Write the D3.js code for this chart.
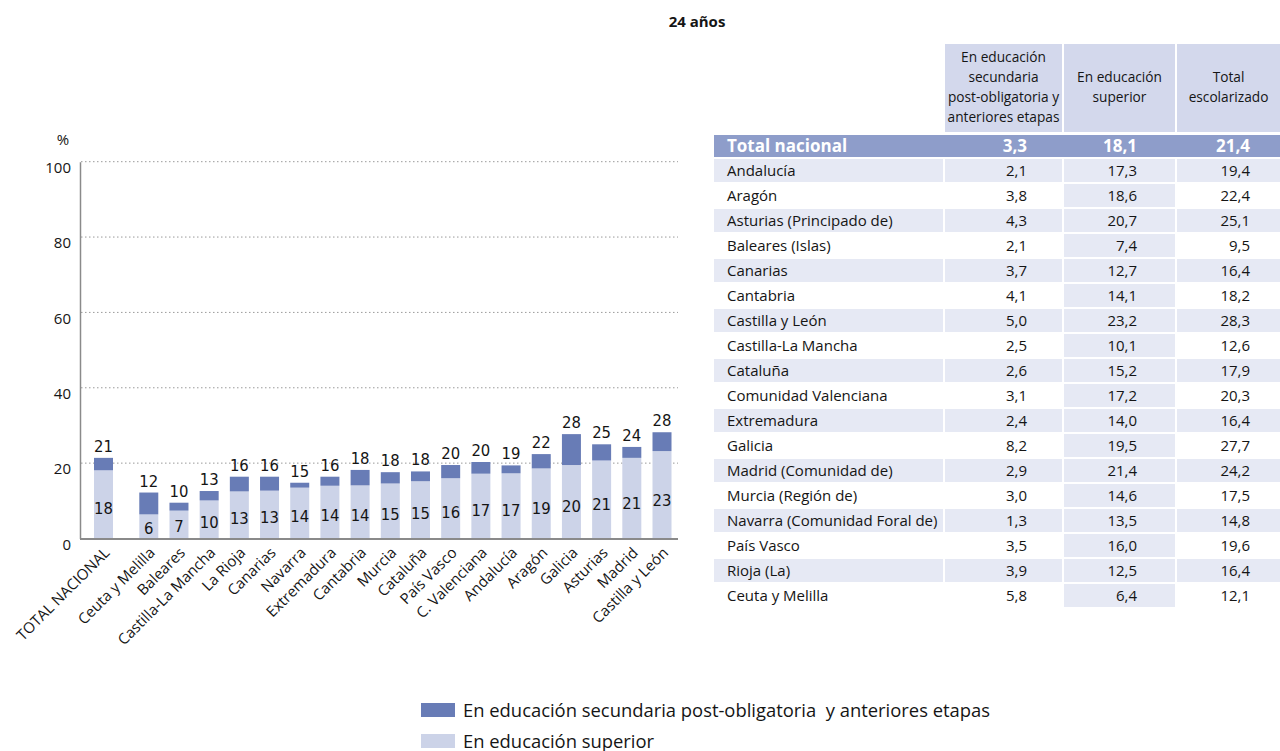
<!DOCTYPE html>
<html><head><meta charset="utf-8">
<script src="https://cdn.jsdelivr.net/npm/d3@7"></script>
<style>
html,body{margin:0;padding:0;background:#fff;}
svg{display:block;}
</style></head>
<body>
<svg id="c" width="1280" height="751"></svg>
<script>
// ---- chart data (chart order) ----
const chartCats = ["TOTAL NACIONAL","Ceuta y Melilla","Baleares","Castilla-La Mancha","La Rioja","Canarias","Navarra","Extremadura","Cantabria","Murcia","Cataluña","País Vasco","C. Valenciana","Andalucía","Aragón","Galicia","Asturias","Madrid","Castilla y León"];
const chartSuperior = [18.1,6.4,7.4,10.1,12.5,12.7,13.5,14.0,14.1,14.6,15.2,16.0,17.2,17.3,18.6,19.5,20.7,21.4,23.2];
const chartSecundaria = [3.3,5.8,2.1,2.5,3.9,3.7,1.3,2.4,4.1,3.0,2.6,3.5,3.1,2.1,3.8,8.2,4.3,2.9,5.0];
const chartTotal = [21.4,12.1,9.5,12.6,16.4,16.4,14.8,16.4,18.2,17.5,17.9,19.6,20.3,19.4,22.4,27.7,25.1,24.2,28.3];
const yTicks = [0,20,40,60,80,100];

// ---- table data ----
const tableHeaders = [["En educación","secundaria","post-obligatoria y","anteriores etapas"],["En educación","superior"],["Total","escolarizado"]];
const totalNacional = ["Total nacional",3.3,18.1,21.4];
const tableRegions = ["Andalucía","Aragón","Asturias (Principado de)","Baleares (Islas)","Canarias","Cantabria","Castilla y León","Castilla-La Mancha","Cataluña","Comunidad Valenciana","Extremadura","Galicia","Madrid (Comunidad de)","Murcia (Región de)","Navarra (Comunidad Foral de)","País Vasco","Rioja (La)","Ceuta y Melilla"];
const tableSecundaria = [2.1,3.8,4.3,2.1,3.7,4.1,5.0,2.5,2.6,3.1,2.4,8.2,2.9,3.0,1.3,3.5,3.9,5.8];
const tableSuperior = [17.3,18.6,20.7,7.4,12.7,14.1,23.2,10.1,15.2,17.2,14.0,19.5,21.4,14.6,13.5,16.0,12.5,6.4];
const tableTotal = [19.4,22.4,25.1,9.5,16.4,18.2,28.3,12.6,17.9,20.3,16.4,27.7,24.2,17.5,14.8,19.6,16.4,12.1];

const legendLabels = ["En educación secundaria post-obligatoria  y anteriores etapas","En educación superior"];
const title = "24 años";

const DARK = "#687cb6", LIGHT = "#ccd3e8", SHADE = "#e6e9f4", HEAD = "#d3d8ec", TOTROW = "#8e9dca";
const FONT = "'Open Sans', 'Noto Sans', sans-serif";
const NARROW = "'Liberation Sans Narrow', 'DejaVu Sans Condensed', sans-serif";
const TXT = "#151515";

const svg = d3.select("#c");
const loc = d3.formatLocale({decimal:",", thousands:".", grouping:[3], currency:["","€"]});
const f1 = loc.format(".1f");

// title
svg.append("text").attr("x",697).attr("y",27).attr("text-anchor","middle")
  .style("font-family",FONT).style("font-weight","bold").style("font-size","15px").attr("fill",TXT).text(title);

// ---- chart ----
const y = d3.scaleLinear().domain([0,100]).range([538.5,161.7]);
const positions = chartCats.map((c,i)=> i===0 ? 0 : i+0.5);
const x = d3.scaleLinear().domain([0,18.5]).range([103.5,662]);
const bw = 19;

// gridlines
svg.append("g").selectAll("line").data(yTicks.filter(t=>t>0)).join("line")
  .attr("x1",81).attr("x2",678).attr("y1",d=>y(d)).attr("y2",d=>y(d))
  .attr("stroke","#9a9a9a").attr("stroke-width",1).attr("stroke-dasharray","1.5,2.5");

// y axis
const ya = svg.append("g").attr("transform","translate(80,0)")
  .call(d3.axisLeft(y).tickValues(yTicks).tickSize(0).tickPadding(9));
ya.select(".domain").attr("stroke","#8a8a8a").attr("stroke-width",1.5);
ya.selectAll("text").style("font-family",FONT).style("font-size","15px").attr("fill",TXT).attr("dy","0.72em");
svg.append("text").attr("x",63).attr("y",145).attr("text-anchor","middle")
  .style("font-family",FONT).style("font-size","15px").attr("fill",TXT).text("%");

// bars
const data = chartCats.map((c,i)=>({c,p:positions[i],sup:chartSuperior[i],sec:chartSecundaria[i],tot:chartTotal[i]}));
const bars = svg.append("g");
bars.selectAll("rect.sup").data(data).join("rect").attr("class","sup")
  .attr("x",d=>x(d.p)-bw/2).attr("width",bw)
  .attr("y",d=>y(d.sup)).attr("height",d=>y(0)-y(d.sup)).attr("fill",LIGHT);
bars.selectAll("rect.sec").data(data).join("rect").attr("class","sec")
  .attr("x",d=>x(d.p)-bw/2).attr("width",bw)
  .attr("y",d=>y(d.sup+d.sec)).attr("height",d=>y(d.sup)-y(d.sup+d.sec)).attr("fill",DARK);

// x axis
const xa = svg.append("g").attr("transform","translate(0,539)")
  .call(d3.axisBottom(x).tickValues(positions).tickFormat((d,i)=>chartCats[i]).tickSize(0));
xa.select(".domain").remove();
svg.append("line").attr("x1",80).attr("x2",678).attr("y1",539).attr("y2",539).attr("stroke","#8a8a8a").attr("stroke-width",2);
xa.selectAll("text").attr("text-anchor","end")
  .attr("transform","translate(-1,7) rotate(-45)")
  .attr("dy","0.72em").attr("y",0).attr("x",0)
  .style("font-family",FONT).style("font-size","15px").attr("fill",TXT);

// value labels
bars.selectAll("text.lo").data(data).join("text").attr("class","lo")
  .attr("x",d=>x(d.p)).attr("y",d=>y(d.sup*0.44)).attr("dy","0.36em").attr("text-anchor","middle")
  .style("font-family",NARROW).style("font-size","16.5px").attr("fill",TXT)
  .text(d=>Math.round(d.sup));
bars.selectAll("text.hi").data(data).join("text").attr("class","hi")
  .attr("x",d=>x(d.p)).attr("y",d=>y(d.sup+d.sec)-6).attr("text-anchor","middle")
  .style("font-family",NARROW).style("font-size","16.5px").attr("fill",TXT)
  .text(d=>Math.round(d.tot));

// ---- table ----
const cols = [{x0:945,x1:1062,tx:1027},{x0:1064,x1:1175,tx:1137},{x0:1177,x1:1280,tx:1250}];
const tb = svg.append("g");
tb.selectAll("rect.h").data(cols).join("rect").attr("class","h")
  .attr("x",d=>d.x0).attr("width",d=>d.x1-d.x0).attr("y",44).attr("height",88).attr("fill",HEAD);
cols.forEach((c,ci)=>{
  const lines = tableHeaders[ci];
  const start = ci===0 ? 61.5 : 81.5;
  tb.append("text").attr("text-anchor","middle")
    .style("font-family",FONT).style("font-size","13.7px").attr("fill",TXT)
    .selectAll("tspan").data(lines).join("tspan")
    .attr("x",(c.x0+c.x1)/2).attr("y",(d,i)=>start+i*20.3).text(d=>d);
});
// total row
tb.append("rect").attr("x",714).attr("width",566).attr("y",135).attr("height",22).attr("fill",TOTROW);
tb.append("text").attr("x",727).attr("y",152).style("font-family",FONT).style("font-weight","bold")
  .style("font-size","17px").attr("fill","#fff").text(totalNacional[0]);
cols.forEach((c,ci)=>{
  tb.append("text").attr("x",c.tx).attr("y",152).attr("text-anchor","end")
    .style("font-family",FONT).style("font-weight","bold").style("font-size","17px").attr("fill","#fff")
    .text(f1(totalNacional[ci+1]));
});
// body rows
const rows = tableRegions.map((r,i)=>({r,i,vals:[tableSecundaria[i],tableSuperior[i],tableTotal[i]]}));
const rowTop = i=>159+25*i;
rows.forEach(d=>{
  const top = rowTop(d.i);
  if(d.i%2===0){
    tb.append("rect").attr("x",714).attr("width",229).attr("y",top).attr("height",23).attr("fill",SHADE);
    cols.forEach(c=>tb.append("rect").attr("x",c.x0).attr("width",c.x1-c.x0).attr("y",top).attr("height",23).attr("fill",SHADE));
  } else {
    const c = cols[1];
    tb.append("rect").attr("x",c.x0).attr("width",c.x1-c.x0).attr("y",top).attr("height",23).attr("fill",SHADE);
  }
  tb.append("text").attr("x",727).attr("y",top+17).style("font-family",FONT).style("font-size","15px").attr("fill",TXT).text(d.r);
  cols.forEach((c,ci)=>{
    tb.append("text").attr("x",c.tx).attr("y",top+17).attr("text-anchor","end")
      .style("font-family",FONT).style("font-size","15px").attr("fill",TXT).text(f1(d.vals[ci]));
  });
});

// ---- legend ----
const lg = svg.append("g");
[DARK,LIGHT].forEach((col,i)=>{
  lg.append("rect").attr("x",421).attr("y",703+i*31).attr("width",34).attr("height",14).attr("fill",col);
  lg.append("text").attr("x",463).attr("y",716.5+i*31).attr("xml:space","preserve").style("white-space","pre")
    .style("font-family",FONT).style("font-size","18.4px").attr("fill",TXT).text(legendLabels[i]);
});
</script>
</body></html>
